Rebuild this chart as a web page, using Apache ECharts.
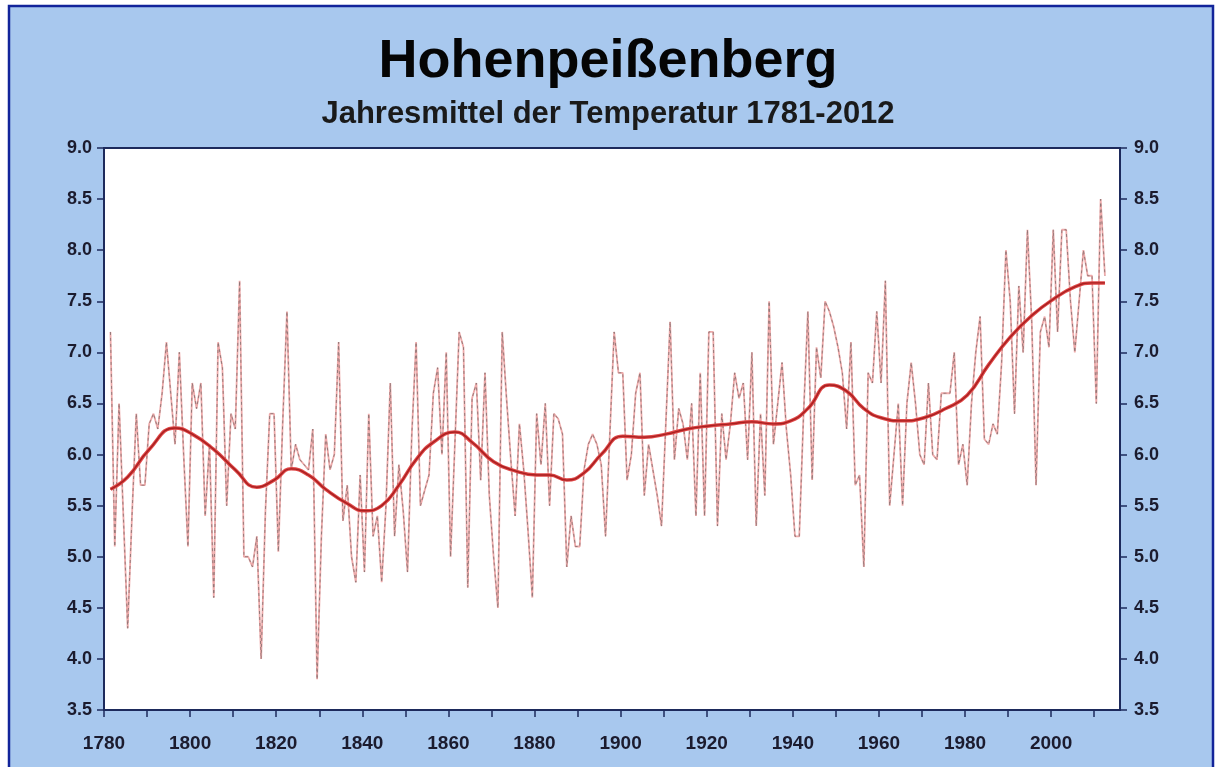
<!DOCTYPE html>
<html>
<head>
<meta charset="utf-8">
<script src="https://cdn.jsdelivr.net/npm/echarts@6/dist/echarts.min.js"></script>
<style>
  html, body { margin: 0; padding: 0; background: #ffffff; }
  #chart { width: 1216px; height: 767px; }
</style>
</head>
<body>
<div id="chart"></div>
<script>
// ---- data ----
const firstYear = 1781;
const annualMeans = [
  // 1781-1790
  7.2, 5.1, 6.5, 5.4, 4.3, 5.4, 6.4, 5.7, 5.7, 6.3,
  // 1791-1800
  6.4, 6.25, 6.6, 7.1, 6.6, 6.1, 7.0, 6.0, 5.1, 6.7,
  // 1801-1810
  6.45, 6.7, 5.4, 6.1, 4.6, 7.1, 6.85, 5.5, 6.4, 6.25,
  // 1811-1820
  7.7, 5.0, 5.0, 4.9, 5.2, 4.0, 5.45, 6.4, 6.4, 5.05,
  // 1821-1830
  6.3, 7.4, 5.85, 6.1, 5.95, 5.9, 5.85, 6.25, 3.8, 5.2,
  // 1831-1840
  6.2, 5.85, 6.0, 7.1, 5.35, 5.7, 5.0, 4.75, 5.8, 4.85,
  // 1841-1850
  6.4, 5.2, 5.4, 4.75, 5.5, 6.7, 5.2, 5.9, 5.45, 4.85,
  // 1851-1860
  6.2, 7.1, 5.5, 5.65, 5.8, 6.6, 6.85, 6.0, 7.0, 5.0,
  // 1861-1870
  6.1, 7.2, 7.05, 4.7, 6.55, 6.7, 5.75, 6.8, 5.6, 5.0,
  // 1871-1880
  4.5, 7.2, 6.55, 5.95, 5.4, 6.3, 5.85, 5.25, 4.6, 6.4,
  // 1881-1890
  5.9, 6.5, 5.5, 6.4, 6.35, 6.2, 4.9, 5.4, 5.1, 5.1,
  // 1891-1900
  5.85, 6.1, 6.2, 6.1, 5.9, 5.2, 6.2, 7.2, 6.8, 6.8,
  // 1901-1910
  5.75, 6.0, 6.6, 6.8, 5.6, 6.1, 5.85, 5.6, 5.3, 6.3,
  // 1911-1920
  7.3, 5.95, 6.45, 6.3, 5.95, 6.5, 5.4, 6.8, 5.4, 7.2,
  // 1921-1930
  7.2, 5.3, 6.4, 5.95, 6.3, 6.8, 6.55, 6.7, 5.95, 7.0,
  // 1931-1940
  5.3, 6.4, 5.6, 7.5, 6.1, 6.5, 6.9, 6.25, 5.8, 5.2,
  // 1941-1950
  5.2, 6.4, 7.4, 5.75, 7.05, 6.75, 7.5, 7.4, 7.25, 7.05,
  // 1951-1960
  6.8, 6.25, 7.1, 5.7, 5.8, 4.9, 6.8, 6.7, 7.4, 6.7,
  // 1961-1970
  7.7, 5.5, 6.0, 6.5, 5.5, 6.5, 6.9, 6.5, 6.0, 5.9,
  // 1971-1980
  6.7, 6.0, 5.95, 6.6, 6.6, 6.6, 7.0, 5.9, 6.1, 5.7,
  // 1981-1990
  6.5, 7.0, 7.35, 6.15, 6.1, 6.3, 6.2, 6.9, 8.0, 7.5,
  // 1991-2000
  6.4, 7.65, 7.0, 8.2, 7.3, 5.7, 7.2, 7.35, 7.05, 8.2,
  // 2001-2010
  7.2, 8.2, 8.2, 7.5, 7.0, 7.5, 8.0, 7.75, 7.75, 6.5,
  // 2011-2012
  8.5, 7.75
];
// smoothed trend, read at selected years
const trendYears  = [1781, 1785, 1790, 1796, 1800, 1805, 1810, 1815, 1819, 1823, 1827, 1831, 1836, 1840, 1844, 1848, 1852, 1856, 1861, 1865, 1870, 1875, 1880, 1883, 1887, 1891, 1895, 1900, 1905, 1910, 1915, 1920, 1925, 1930, 1935, 1939, 1943, 1948, 1952, 1956, 1960, 1965, 1970, 1975, 1980, 1985, 1990, 1995, 2000, 2005, 2009, 2012];
const trendValues = [5.66, 5.78, 6.05, 6.26, 6.2, 6.05, 5.85, 5.68, 5.75, 5.86, 5.8, 5.66, 5.52, 5.45, 5.5, 5.7, 5.95, 6.12, 6.22, 6.12, 5.93, 5.84, 5.8, 5.8, 5.75, 5.82, 6.0, 6.18, 6.17, 6.2, 6.25, 6.28, 6.3, 6.32, 6.3, 6.33, 6.45, 6.68, 6.62, 6.45, 6.36, 6.33, 6.36, 6.45, 6.58, 6.88, 7.15, 7.36, 7.52, 7.64, 7.68, 7.68];

const xTickYears  = [1780, 1790, 1800, 1810, 1820, 1830, 1840, 1850, 1860, 1870, 1880, 1890, 1900, 1910, 1920, 1930, 1940, 1950, 1960, 1970, 1980, 1990, 2000, 2010];
const xLabelYears = [1780, 1800, 1820, 1840, 1860, 1880, 1900, 1920, 1940, 1960, 1980, 2000];

const titleText = 'Hohenpeißenberg';
const subtitleText = 'Jahresmittel der Temperatur 1781-2012';

// ---- build series data ----
const annualData = annualMeans.map((v, i) => [firstYear + i + 0.5, v]);
const trendData = trendYears.map((y, i) => [y + 0.5, trendValues[i]]);

const axisColor = '#1d2a5c';
const fontFam = "'Liberation Sans', Arial, sans-serif";

const chart = echarts.init(document.getElementById('chart'), null, { renderer: 'canvas' });
chart.setOption({
  backgroundColor: '#ffffff',
  animation: false,
  graphic: [{
    type: 'rect', z: -10, silent: true,
    shape: { x: 9, y: 6, width: 1204, height: 775 },
    style: { fill: '#a8c8ee', stroke: '#12249a', lineWidth: 2.5 }
  }],
  title: [{
    text: titleText, left: 'center', top: 30,
    textStyle: { fontFamily: fontFam, fontWeight: 'bold', fontSize: 54, color: '#050505' }
  }, {
    text: subtitleText, left: 'center', top: 94,
    textStyle: { fontFamily: fontFam, fontWeight: 'bold', fontSize: 31, color: '#1a1a1a' }
  }],
  grid: {
    left: 104, right: 96, top: 148, bottom: 57,
    show: true, backgroundColor: '#ffffff', borderColor: axisColor, borderWidth: 2
  },
  xAxis: {
    type: 'value', min: 1780, max: 2016,
    axisLine: { show: true, lineStyle: { color: axisColor, width: 2 } },
    axisTick: { show: true, length: 7, customValues: xTickYears, lineStyle: { color: axisColor, width: 1.5 } },
    axisLabel: {
      customValues: xLabelYears, margin: 24, formatter: v => String(v),
      fontFamily: fontFam, fontWeight: 'bold', fontSize: 19, color: '#1b1b2e'
    },
    splitLine: { show: false }
  },
  yAxis: [{
    type: 'value', min: 3.5, max: 9.0, interval: 0.5, position: 'left',
    axisLine: { show: true, lineStyle: { color: axisColor, width: 2 } },
    axisTick: { show: true, length: 7, lineStyle: { color: axisColor, width: 1.5 } },
    axisLabel: {
      formatter: v => v.toFixed(1), margin: 12,
      fontFamily: fontFam, fontWeight: 'bold', fontSize: 18, color: '#1b1b2e'
    },
    splitLine: { show: false }
  }, {
    type: 'value', min: 3.5, max: 9.0, interval: 0.5, position: 'right',
    axisLine: { show: true, lineStyle: { color: axisColor, width: 2 } },
    axisTick: { show: true, length: 7, lineStyle: { color: axisColor, width: 1.5 } },
    axisLabel: {
      formatter: v => v.toFixed(1), margin: 14,
      fontFamily: fontFam, fontWeight: 'bold', fontSize: 18, color: '#1b1b2e'
    },
    splitLine: { show: false }
  }],
  series: [{
    name: 'Jahresmittel', type: 'line', data: annualData, showSymbol: false,
    lineStyle: { color: '#eeaaaa', width: 1.8 }, z: 2
  }, {
    name: 'Jahresmittel-dash', type: 'line', data: annualData, showSymbol: false,
    lineStyle: { color: '#8c7474', width: 0.9, type: [3, 3] }, z: 3
  }, {
    name: 'Trend', type: 'line', data: trendData, showSymbol: false, smooth: 0.5,
    lineStyle: { color: '#e04848', width: 3.5 }, z: 4
  }, {
    name: 'Trend-core', type: 'line', data: trendData, showSymbol: false, smooth: 0.5,
    lineStyle: { color: '#a82020', width: 1.4 }, z: 5
  }]
});
</script>
</body>
</html>
